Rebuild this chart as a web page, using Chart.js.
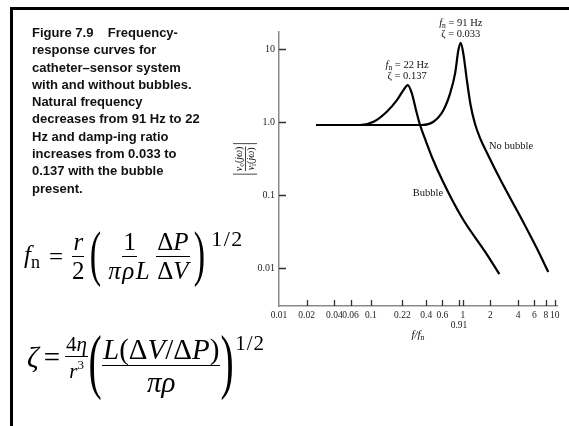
<!DOCTYPE html>
<html lang="en">

<head>
  <meta charset="UTF-8">
  <title>Figure 7.9 Frequency-response curves</title>
  <script src="https://cdn.jsdelivr.net/npm/chart.js@4.4.1/dist/chart.umd.min.js"></script>
  <style>
    html,
    body {
      margin: 0;
      padding: 0;
      background: #fff;
    }

    #slide {
      position: relative;
      width: 569px;
      height: 426px;
      overflow: hidden;
    }

    .frame-top {
      position: absolute;
      left: 10px;
      top: 7px;
      width: 559px;
      height: 2.5px;
      background: #000;
    }

    .frame-left {
      position: absolute;
      left: 10px;
      top: 7px;
      width: 2.5px;
      height: 419px;
      background: #000;
    }

    #chartFreq {
      position: absolute;
      left: 0;
      top: 0;
    }

    .caption {
      position: absolute;
      left: 32px;
      top: 24px;
      margin: 0;
      font-family: "Liberation Sans", Arial, sans-serif;
      font-weight: bold;
      font-size: 13px;
      line-height: 17.3px;
      color: #111;
      white-space: nowrap;
    }

    /* 수식 */
    .eq {
      position: absolute;
      display: flex;
      align-items: center;
      font-family: "Liberation Serif", "Times New Roman", serif;
      font-size: 25px;
      line-height: 1;
      color: #000;
      white-space: nowrap;
    }

    .eq .v {
      font-style: italic;
    }

    .eq .op {
      margin: 0 6px 0 9px;
    }

    .eq .frac {
      display: inline-flex;
      flex-direction: column;
      align-items: center;
      margin: 0 2px;
    }

    .eq .frac>span {
      padding: 1px 1px;
      line-height: 1.05;
    }

    .eq .frac>span:first-child {
      border-bottom: 1.3px solid #000;
    }

    .eq .frac.wide>span:last-child {
      letter-spacing: 1.5px;
    }

    .eq .paren {
      font-size: 62px;
      line-height: 1;
      transform: scaleX(0.55);
      margin: -8px -3px 0 -3px;
    }

    .eq .pow {
      align-self: flex-start;
      font-size: 22px;
      letter-spacing: 1.5px;
      margin-left: 5px;
    }

    .eq sub {
      font-size: 18px;
      font-style: normal;
      vertical-align: -5px;
    }

    .eq sup {
      font-size: 13px;
      vertical-align: 9px;
    }

    #eqFn .gap {
      margin-left: 5px;
    }

    #eqZeta {
      font-size: 29px;
    }

    #eqZeta .op {
      margin: 0 3px 0 5px;
    }

    #eqZeta .paren {
      font-size: 72px;
      margin: -9px -7px 0 -7px;
    }

    #eqZeta .frac.sm {
      font-size: 21px;
    }

    #eqZeta .pow {
      font-size: 21px;
      letter-spacing: 1px;
      margin-left: 3px;
    }

    #eqZeta .lead {
      position: relative;
      top: -8px;
    }
  </style>
</head>

<body>
  <div id="slide">
    <div class="frame-top"></div>
    <div class="frame-left"></div>

    <canvas id="chartFreq" width="569" height="426"></canvas>

    <p class="caption">
      Figure 7.9&nbsp;&nbsp;&nbsp; Frequency-<br>
      response curves for<br>
      catheter–sensor system<br>
      with and without bubbles.<br>
      Natural frequency<br>
      decreases from 91 Hz to 22<br>
      Hz and damp-ing ratio<br>
      increases from 0.033 to<br>
      0.137 with the bubble<br>
      present.
    </p>

    <!-- f_n -->
    <div class="eq" id="eqFn" style="left:24px; top:228px;">
      <span><span class="v">f</span><sub>n</sub></span>
      <span class="op">=</span>
      <span class="frac"><span class="v">r</span><span>2</span></span>
      <span class="paren">(</span>
      <span class="frac wide gap"><span>1</span><span class="v">πρL</span></span>
      <span class="frac"><span>Δ<span class="v">P</span></span><span>Δ<span class="v">V</span></span></span>
      <span class="paren">)</span>
      <span class="pow">1/2</span>
    </div>

    <!-- zeta -->
    <div class="eq" id="eqZeta" style="left:27px; top:333px;">
      <span class="v lead">ζ</span>
      <span class="op lead">=</span>
      <span class="frac sm lead"><span>4<span class="v">η</span></span><span><span class="v">r</span><sup>3</sup></span></span>
      <span class="paren">(</span>
      <span class="frac"><span><span class="v">L</span>(Δ<span class="v">V</span>/Δ<span class="v">P</span>)</span><span class="v">πρ</span></span>
      <span class="paren">)</span>
      <span class="pow">1/2</span>
    </div>
  </div>

  <script>
    // axis ticks
    const xTicks = [0.01, 0.02, 0.04, 0.06, 0.1, 0.22, 0.4, 0.6, 0.91, 1, 2, 4, 6, 8, 10];
    const yTicks = [0.01, 0.1, 1, 10];

    // |vo/vi| vs f/fn, with bubble (fn = 22 Hz, zeta = 0.137)
    const bubbleX = [0.0254, 0.0766, 0.107, 0.149, 0.192, 0.226, 0.252, 0.279, 0.310, 0.343, 0.399, 0.460, 0.615, 0.985, 1.82, 2.50];
    const bubbleY = [0.92, 0.92, 1.02, 1.40, 2.02, 2.77, 3.24, 2.50, 1.47, 0.92, 0.542, 0.338, 0.1497, 0.0489, 0.0157, 0.00835];

    // no bubble (fn = 91 Hz, zeta = 0.033)
    const noBubbleX = [0.0254, 0.358, 0.479, 0.615, 0.728, 0.825, 0.896, 0.951, 1.020, 1.100, 1.216, 1.360, 1.542, 1.837, 2.544, 4.196, 6.373, 8.521];
    const noBubbleY = [0.92, 0.92, 1.02, 1.47, 2.50, 4.69, 9.78, 12.3, 8.35, 4.04, 1.726, 0.948, 0.609, 0.380, 0.1672, 0.0521, 0.01897, 0.0089];

    const serif = '"Liberation Serif", "Times New Roman", serif';

    const toPoints = (xs, ys) => xs.map((x, i) => ({ x: x, y: ys[i] }));

    // rich text: italic / subscript pieces
    function partFont(p, size) {
      const s = p.sub ? size * 0.72 : size;
      return (p.it ? 'italic ' : '') + s + 'px ' + serif;
    }

    function drawParts(ctx, parts, x, y, size, align) {
      let w = 0;
      parts.forEach(p => {
        ctx.font = partFont(p, size);
        w += ctx.measureText(p.t).width;
      });
      let cx = align === 'center' ? x - w / 2 : (align === 'right' ? x - w : x);
      ctx.textAlign = 'left';
      ctx.textBaseline = 'middle';
      parts.forEach(p => {
        ctx.font = partFont(p, size);
        ctx.fillText(p.t, cx, y + (p.sub ? size * 0.3 : 0));
        cx += ctx.measureText(p.t).width;
      });
      return w;
    }

    // ticks pointing into the plot + titles + curve notes
    const figureDecor = {
      id: 'figureDecor',
      afterDraw(chart) {
        const ctx = chart.ctx;
        const xs = chart.scales.x;
        const ys = chart.scales.y;
        const area = chart.chartArea;

        ctx.save();
        ctx.strokeStyle = '#333';
        ctx.lineWidth = 1.3;
        ctx.beginPath();
        xTicks.forEach(v => {
          if (v === xs.min) return;
          const px = Math.round(xs.getPixelForValue(v)) + 0.5;
          ctx.moveTo(px, area.bottom);
          ctx.lineTo(px, area.bottom - 6);
        });
        yTicks.forEach(v => {
          const py = Math.round(ys.getPixelForValue(v)) + 0.5;
          ctx.moveTo(area.left, py);
          ctx.lineTo(area.left + 7, py);
        });
        ctx.stroke();

        ctx.fillStyle = '#111';

        // x title  f/fn
        drawParts(ctx, [{ t: 'f/f', it: true }, { t: 'n', sub: true }],
          (area.left + area.right) / 2, area.bottom + 29, 11, 'center');

        // y title  |vo(jω) / vi(jω)|, rotated
        ctx.save();
        ctx.translate(area.left - 34, ys.getPixelForValue(0.316));
        ctx.rotate(-Math.PI / 2);
        const num = [{ t: 'v', it: true }, { t: 'o', sub: true }, { t: '(', }, { t: 'jω', it: true }, { t: ')' }];
        const den = [{ t: 'v', it: true }, { t: 'i', sub: true }, { t: '(', }, { t: 'jω', it: true }, { t: ')' }];
        const wn = drawParts(ctx, num, 0, -6, 10, 'center');
        drawParts(ctx, den, 0, 6, 10, 'center');
        ctx.lineWidth = 0.9;
        ctx.beginPath();
        ctx.moveTo(-wn / 2, 0.5);
        ctx.lineTo(wn / 2, 0.5);
        ctx.moveTo(-wn / 2 - 3, -12);
        ctx.lineTo(-wn / 2 - 3, 12);
        ctx.moveTo(wn / 2 + 3, -12);
        ctx.lineTo(wn / 2 + 3, 12);
        ctx.stroke();
        ctx.restore();

        // peak notes
        const peakNote = (x, y, hz, zeta) => {
          const px = xs.getPixelForValue(x);
          const py = ys.getPixelForValue(y);
          drawParts(ctx, [{ t: 'f', it: true }, { t: 'n', sub: true }, { t: ' = ' + hz + ' Hz' }], px, py - 20, 10.5, 'center');
          drawParts(ctx, [{ t: 'ζ = ' + zeta }], px, py - 9, 10.5, 'center');
        };
        peakNote(0.951, 12.3, 91, '0.033');
        peakNote(0.248, 3.24, 22, '0.137');

        drawParts(ctx, [{ t: 'No bubble' }], xs.getPixelForValue(1.93), ys.getPixelForValue(0.478), 10.5, 'left');
        drawParts(ctx, [{ t: 'Bubble' }], xs.getPixelForValue(0.611), ys.getPixelForValue(0.106), 10.5, 'right');

        ctx.restore();
      }
    };

    const curveStyle = {
      borderColor: '#000',
      borderWidth: 2.2,
      pointRadius: 0,
      fill: false,
      cubicInterpolationMode: 'monotone',
      clip: false
    };

    new Chart(document.getElementById('chartFreq'), {
      type: 'line',
      plugins: [figureDecor],
      data: {
        datasets: [
          Object.assign({ label: 'No bubble', data: toPoints(noBubbleX, noBubbleY) }, curveStyle),
          Object.assign({ label: 'Bubble', data: toPoints(bubbleX, bubbleY) }, curveStyle)
        ]
      },
      options: {
        responsive: false,
        animation: false,
        layout: {
          padding: { left: 239, top: 32, right: 12, bottom: 70 }
        },
        plugins: {
          legend: { display: false },
          tooltip: { enabled: false }
        },
        scales: {
          x: {
            type: 'logarithmic',
            min: 0.01,
            max: 10.6,
            grid: { display: false, drawTicks: false },
            border: { display: true, color: '#8a8a8a', width: 1.5 },
            afterBuildTicks: s => { s.ticks = xTicks.map(v => ({ value: v })); },
            afterFit: s => { s.height = 50; },
            ticks: {
              autoSkip: false,
              maxRotation: 0,
              minRotation: 0,
              padding: 5,
              color: '#222',
              font: { family: serif, size: 9.5, lineHeight: 1.05 },
              callback: v => (v === 0.91 ? ['', '0.91'] : String(v))
            }
          },
          y: {
            type: 'logarithmic',
            min: 0.00305,
            max: 17.3,
            grid: { display: false, drawTicks: false },
            border: { display: true, color: '#8a8a8a', width: 1.5 },
            afterBuildTicks: s => { s.ticks = yTicks.map(v => ({ value: v })); },
            afterFit: s => { s.width = 40; },
            ticks: {
              padding: 4,
              color: '#222',
              font: { family: serif, size: 10 },
              callback: v => (v === 1 ? '1.0' : String(v))
            }
          }
        }
      }
    });
  </script>
</body>

</html>
